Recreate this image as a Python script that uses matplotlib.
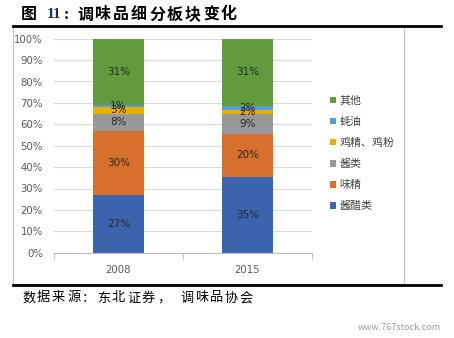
import matplotlib
matplotlib.use("Agg")
import matplotlib.pyplot as plt
from matplotlib.lines import Line2D
from matplotlib.patches import Rectangle
import numpy as np

plt.rcParams['font.family'] = ['Noto Sans CJK SC', 'DejaVu Sans']

categories = ['2008', '2015']
series_names = ['酱醋类', '味精', '酱类', '鸡精、鸡粉', '蚝油', '其他']
val_jiangcu = [27, 35]
val_weijing = [30, 20]
val_jianglei = [8, 9]
val_jijing = [3, 2]
val_haoyou = [1, 2]
val_qita = [31, 31]
yticks = [0, 10, 20, 30, 40, 50, 60, 70, 80, 90, 100]
colors = ['#3C63AD', '#D6702C', '#989898', '#E8AE00', '#5B9BD5', '#629B3E']

series = [val_jiangcu, val_weijing, val_jianglei, val_jijing, val_haoyou, val_qita]
data = np.array(series, dtype=float)
totals = data.sum(axis=0)
pct = data / totals * 100

W, H = 454, 338
fig = plt.figure(figsize=(W / 100, H / 100), dpi=100)


def spaced(text, x0, y, pitch, **kw):
    for k, ch in enumerate(text):
        fig.text((x0 + k * pitch) / W, 1 - y / H, ch, va='center', ha='left', **kw)


# frame and decorative lines
fig.add_artist(Rectangle((13 / W, 1 - 284 / H), (404 - 13) / W, (284 - 26) / H,
                         transform=fig.transFigure, fill=False, edgecolor='#BFBFBF', lw=0.8))
fig.add_artist(Line2D([13 / W, 441 / W], [1 - 26 / H, 1 - 26 / H], transform=fig.transFigure,
                      color='black', lw=2.0))
fig.add_artist(Line2D([13 / W, 441 / W], [1 - 284.5 / H, 1 - 284.5 / H], transform=fig.transFigure,
                      color='black', lw=2.0))

# title
tkw = dict(fontsize=11.5, fontweight='bold', color='black')
fig.text(21 / W, 1 - 14.5 / H, '图', va='center', ha='left', **tkw)
fig.text(47 / W, 1 - 15 / H, '11', fontsize=11, fontweight='bold', va='center', ha='left', color='#1F2A5A',
         family=['Liberation Serif'])
fig.text(63.5 / W, 1 - 15 / H, ':', fontsize=11.5, fontweight='bold', va='center', ha='left', color='black',
         family=['Liberation Serif'])
spaced('调味品细分板块变化', 77, 14.5, 18.0, **tkw)

# source
skw = dict(fontsize=9.5, color='black')
spaced('数据来源：', 22, 298, 15, **skw)
spaced('东北证券，', 97, 298, 15, **skw)
spaced('调味品协会', 180, 298, 14.8, **skw)
fig.text(441 / W, 1 - 327 / H, 'www.767stock.com', fontsize=6.5, va='center', ha='right', color='#9A9A9A')

ax = fig.add_axes([54 / W, 1 - 252.7 / H, 258 / W, (252.7 - 38.7) / H])
x = np.arange(len(categories))
bottom = np.zeros(len(categories))
handles = []
for i, name in enumerate(series_names):
    b = ax.bar(x, pct[i], width=0.403, bottom=bottom, color=colors[i], label=name, zorder=3)
    handles.append(b)
    for j in range(len(categories)):
        ax.text(x[j], bottom[j] + pct[i][j] / 2, f'{int(data[i][j])}%', ha='center', va='center',
                fontsize=7.5, color='#262626', zorder=4, family=['DejaVu Sans'])
    bottom += pct[i]

ax.set_xlim(-0.5, 1.5)
ax.set_ylim(0, 100)
ax.set_yticks(yticks)
ax.set_yticklabels([f'{v}%' for v in yticks], fontsize=7.3, color='#595959', family=['DejaVu Sans'])
ax.yaxis.grid(True, color='#D9D9D9', lw=0.8, zorder=0)
ax.tick_params(axis='y', length=0, pad=8)
ax.set_xticks(x)
ax.set_xticklabels(categories, fontsize=7.3, color='#595959', family=['DejaVu Sans'])
ax.set_xticks([-0.5, 0.5, 1.5], minor=True)
ax.tick_params(axis='x', which='major', length=0, pad=9)
ax.tick_params(axis='x', which='minor', length=4, color='#BFBFBF', width=0.8)
for s in ['top', 'right', 'left']:
    ax.spines[s].set_visible(False)
ax.spines['bottom'].set_color('#BFBFBF')
ax.spines['bottom'].set_linewidth(0.8)
ax.set_facecolor('none')

# legend (reverse order)
leg = fig.legend(handles[::-1], series_names[::-1], loc='center left',
                 bbox_to_anchor=(320 / W, 1 - 153.5 / H), frameon=False, fontsize=7.9,
                 handlelength=0.55, handleheight=0.55, handletextpad=0.3, labelspacing=1.0,
                 labelcolor='#404040')

fig.savefig('out.png', dpi=100)
